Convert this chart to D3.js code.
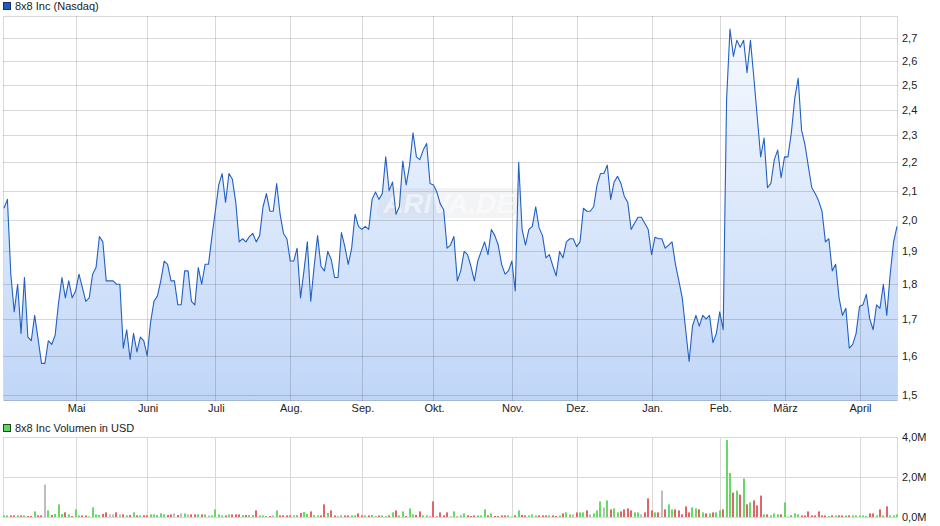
<!DOCTYPE html>
<html><head><meta charset="utf-8">
<script src="https://cdn.jsdelivr.net/npm/d3@7"></script>
<style>
html,body{margin:0;padding:0;background:#fff;}
svg{display:block;font-family:"Liberation Sans",Arial,sans-serif;}
</style></head>
<body>
<svg id="chart" width="940" height="526"></svg>
<script>
const title = "8x8 Inc (Nasdaq)";
const volumeTitle = "8x8 Inc Volumen in USD";
const watermark = "ARIVA.DE";

const prices = [
2.04,2.07,1.83,1.72,1.80,1.66,1.82,1.65,1.64,1.71,
1.645,1.58,1.58,1.64,1.63,1.655,1.745,1.82,1.76,1.81,
1.76,1.78,1.83,1.79,1.75,1.76,1.83,1.85,1.947,1.93,
1.81,1.81,1.81,1.80,1.80,1.62,1.67,1.59,1.66,1.61,
1.65,1.64,1.60,1.69,1.75,1.765,1.81,1.87,1.86,1.81,
1.81,1.74,1.74,1.84,1.84,1.75,1.74,1.85,1.80,1.86,
1.86,1.947,2.03,2.12,2.16,2.06,2.16,2.14,2.06,1.93,
1.94,1.93,1.947,1.957,1.93,1.95,2.045,2.09,2.03,2.03,
2.125,2.02,1.957,1.94,1.87,1.87,1.91,1.76,1.84,1.93,
1.75,1.854,1.95,1.854,1.84,1.90,1.875,1.82,1.82,1.96,
1.915,1.86,1.91,2.02,1.98,1.97,1.98,1.97,2.07,2.095,
2.07,2.09,2.22,2.10,2.13,2.02,2.045,2.205,2.12,2.19,
2.31,2.22,2.21,2.245,2.27,2.125,2.12,2.095,2.055,2.035,
1.91,1.92,1.947,1.81,1.84,1.90,1.89,1.854,1.81,1.87,
1.90,1.93,1.89,1.97,1.95,1.92,1.86,1.83,1.84,1.87,
1.78,2.20,1.97,1.92,1.97,1.98,2.045,1.975,1.95,1.88,
1.89,1.856,1.825,1.90,1.88,1.93,1.94,1.94,1.915,1.93,
2.04,2.03,2.03,2.045,2.12,2.16,2.16,2.19,2.07,2.13,
2.15,2.125,2.08,2.06,1.97,1.99,2.01,2.01,1.99,1.97,
1.89,1.945,1.94,1.94,1.91,1.92,1.93,1.86,1.81,1.76,
1.67,1.585,1.68,1.71,1.68,1.71,1.70,1.71,1.635,1.66,
1.72,1.67,2.44,2.74,2.62,2.69,2.66,2.69,2.55,2.69,
2.53,2.37,2.22,2.29,2.11,2.125,2.21,2.245,2.145,2.22,
2.22,2.31,2.445,2.527,2.32,2.265,2.185,2.11,2.09,2.065,
2.03,1.93,1.94,1.84,1.86,1.76,1.71,1.73,1.62,1.63,
1.66,1.735,1.74,1.77,1.70,1.67,1.74,1.73,1.80,1.71,
1.83,1.93,1.98
];

// volume in millions USD
const volumes = [
0.08,0.08,0.08,0.08,0.08,0.08,0.08,0.05,0.05,0.28,
0.08,0.08,1.62,0.33,0.10,0.15,0.63,0.15,0.23,0.13,
0.05,0.38,0.08,0.08,0.08,0.03,0.48,0.13,0.10,0.15,
0.23,0.13,0.13,0.23,0.13,0.13,0.08,0.10,0.23,0.08,
0.08,0.08,0.08,0.13,0.13,0.10,0.18,0.13,0.10,0.13,
0.18,0.10,0.18,0.18,0.13,0.13,0.13,0.13,0.13,0.13,
0.08,0.08,0.38,0.13,0.08,0.08,0.13,0.13,0.13,0.13,
0.10,0.10,0.10,0.10,0.33,0.08,0.08,0.05,0.05,0.08,
0.33,0.08,0.08,0.08,0.08,0.10,0.10,0.20,0.25,0.15,
0.28,0.10,0.08,0.08,0.63,0.20,0.33,0.08,0.05,0.08,
0.08,0.08,0.08,0.08,0.18,0.08,0.08,0.08,0.10,0.05,
0.08,0.08,0.05,0.08,0.23,0.33,0.08,0.28,0.05,0.43,
0.13,0.10,0.28,0.08,0.08,0.03,0.78,0.03,0.23,0.08,
0.23,0.03,0.28,0.03,0.08,0.18,0.08,0.05,0.08,0.08,
0.08,0.38,0.08,0.18,0.05,0.05,0.08,0.08,0.08,0.03,
0.08,0.33,0.10,0.08,0.08,0.13,0.08,0.08,0.08,0.08,
0.08,0.08,0.05,0.08,0.18,0.23,0.13,0.13,0.23,0.23,
0.23,0.33,0.13,0.18,0.33,0.78,0.48,0.83,0.38,0.43,
0.23,0.28,0.38,0.43,0.33,0.23,0.23,0.13,0.23,0.93,
0.33,0.23,0.23,1.32,0.38,0.63,0.38,0.38,0.33,0.13,
0.53,0.23,0.48,0.43,0.38,0.23,0.18,0.18,0.23,0.23,
0.33,0.38,3.85,2.20,1.22,1.32,1.12,1.92,0.63,0.73,
0.83,0.58,1.07,0.13,0.13,0.08,0.18,0.13,0.13,0.73,
0.03,0.10,0.18,0.13,0.08,0.08,0.28,0.08,0.08,0.28,
0.08,0.08,0.05,0.08,0.08,0.08,0.08,0.08,0.08,0.08,
0.08,0.08,0.08,0.05,0.18,0.18,0.08,0.38,0.08,0.53,
0.08,0.08,0.13
];

const monthLabels = ["Mai","Juni","Juli","Aug.","Sep.","Okt.","Nov.","Dez.","Jan.","Feb.","März","April"];
const monthStartIndex = [21,42,62,84,105,126,149,168,190,210,229,251];
const priceTicks = [1.5,1.6,1.7,1.8,1.9,2.0,2.1,2.2,2.3,2.4,2.5,2.6,2.7];
const volumeTicks = [0,2,4];

const svg = d3.select("#chart");
const L = 3, R = 898;
const pTop = 16, pBot = 401;
const vTop = 437, vBot = 517;
const deLocale = d3.formatLocale({decimal:",", thousands:".", grouping:[3], currency:["","€"]});
const f1 = deLocale.format(".1f");

const x = d3.scaleLinear().domain([0, prices.length - 1]).range([4, 897]);
const y = d3.scaleLog().domain([1.485, 2.80]).range([pBot, pTop]);
const yv = d3.scaleLinear().domain([0, 4]).range([vBot, vTop]);

const defs = svg.append("defs");
const grad = defs.append("linearGradient").attr("id","fillGrad")
  .attr("gradientUnits","userSpaceOnUse").attr("x1",0).attr("x2",0).attr("y1",pTop).attr("y2",pBot);
grad.append("stop").attr("offset","0%").attr("stop-color","#f8fbff");
grad.append("stop").attr("offset","100%").attr("stop-color","#bad2f7");

// Legend titles
svg.append("rect").attr("x",3.5).attr("y",2.5).attr("width",7).attr("height",7)
  .attr("fill","#1f5ac4").attr("stroke","#1b2f5a").attr("stroke-width",1);
svg.append("text").attr("x",15).attr("y",10).attr("font-size",11).attr("fill","#222").text(title);
svg.append("rect").attr("x",3.5).attr("y",424.5).attr("width",7).attr("height",7)
  .attr("fill","#5fd65f").attr("stroke","#1f4a1f").attr("stroke-width",1);
svg.append("text").attr("x",15).attr("y",432).attr("font-size",11).attr("fill","#222").text(volumeTitle);

// Price panel
const gP = svg.append("g");
gP.append("rect").attr("x",L+0.5).attr("y",pTop+0.5).attr("width",R-L-1).attr("height",pBot-pTop-1)
  .attr("fill","#fff");

const area = d3.area().x((d,i)=>x(i)).y0(pBot).y1(d=>y(d));
gP.append("path").datum(prices).attr("d",area).attr("fill","url(#fillGrad)").attr("fill-opacity",0.92);

// grid lines on top (semi-transparent)
gP.selectAll("line.hg").data(priceTicks).join("line")
  .attr("x1",L).attr("x2",R).attr("y1",d=>Math.round(y(d))+0.5).attr("y2",d=>Math.round(y(d))+0.5)
  .attr("stroke","#000").attr("stroke-opacity",0.15);
gP.selectAll("line.vg").data(monthStartIndex).join("line")
  .attr("x1",d=>Math.round(x(d))+0.5).attr("x2",d=>Math.round(x(d))+0.5).attr("y1",pTop).attr("y2",pBot)
  .attr("stroke","#000").attr("stroke-opacity",0.15);
gP.append("rect").attr("x",L+0.5).attr("y",pTop+0.5).attr("width",R-L-1).attr("height",pBot-pTop-1)
  .attr("fill","none").attr("stroke","#000").attr("stroke-opacity",0.15);

// watermark (over the area, faint)
const wm = gP.append("g").attr("transform","translate(449,203)");
wm.append("rect").attr("x",-70).attr("y",-15).attr("width",140).attr("height",30).attr("rx",7)
  .attr("fill","#c8ccd4").attr("opacity",0.22).attr("transform","skewX(-14)");
wm.append("text").attr("x",0).attr("y",10).attr("text-anchor","middle")
  .attr("font-size",28).attr("font-weight","bold").attr("font-style","italic")
  .attr("fill","#ffffff").attr("fill-opacity",0.55)
  .text(watermark);

const line = d3.line().x((d,i)=>x(i)).y(d=>y(d));
gP.append("path").datum(prices).attr("d",line).attr("fill","none")
  .attr("stroke","#2260c4").attr("stroke-width",1.1).attr("stroke-linejoin","round");

// Right price axis
const yAxis = d3.axisRight(y).tickValues(priceTicks).tickFormat(f1).tickSize(0).tickPadding(5);
const ya = svg.append("g").attr("transform",`translate(${R-1},0)`).call(yAxis);
ya.select(".domain").remove();
ya.selectAll("text").attr("font-size",11).attr("fill","#222").attr("font-family","Liberation Sans, Arial, sans-serif");

// Bottom month axis
const xAxis = d3.axisBottom(x).tickValues(monthStartIndex).tickFormat((d,i)=>monthLabels[i]).tickSize(0).tickPadding(3);
const xa = svg.append("g").attr("transform",`translate(0.5,${pBot})`).call(xAxis);
xa.select(".domain").remove();
xa.selectAll("text").attr("font-size",11).attr("fill","#222").attr("font-family","Liberation Sans, Arial, sans-serif");

// Volume panel
const gV = svg.append("g");
gV.selectAll("line.vhg").data(volumeTicks).join("line")
  .attr("x1",L).attr("x2",R).attr("y1",d=>Math.round(yv(d))+0.5).attr("y2",d=>Math.round(yv(d))+0.5)
  .attr("stroke","#d9d9d9");
gV.selectAll("line.vvg").data(monthStartIndex).join("line")
  .attr("x1",d=>Math.round(x(d))+0.5).attr("x2",d=>Math.round(x(d))+0.5).attr("y1",vTop).attr("y2",vBot)
  .attr("stroke","#d9d9d9");
gV.append("line").attr("x1",L+0.5).attr("x2",L+0.5).attr("y1",vTop).attr("y2",vBot).attr("stroke","#d9d9d9");
gV.append("line").attr("x1",R-0.5).attr("x2",R-0.5).attr("y1",vTop).attr("y2",vBot).attr("stroke","#d9d9d9");

function barColor(i){
  if (i === 0) return "#66d966";
  const d = prices[i] - prices[i-1];
  if (Math.abs(d) < 1e-9) return "#bdbdbd";
  return d > 0 ? "#66d966" : "#e06666";
}
gV.selectAll("rect.vb").data(volumes).join("rect")
  .attr("x",(d,i)=>Math.round(x(i)) - 1).attr("width",2)
  .attr("y",d=>yv(d)).attr("height",d=>yv(0)-yv(d))
  .attr("fill",(d,i)=>barColor(i));

const vAxis = d3.axisRight(yv).tickValues(volumeTicks).tickFormat(d=>f1(d)+"M").tickSize(0).tickPadding(5);
const va = svg.append("g").attr("transform",`translate(${R-1},0)`).call(vAxis);
va.select(".domain").remove();
va.selectAll("text").attr("font-size",11).attr("fill","#222").attr("font-family","Liberation Sans, Arial, sans-serif");
</script>
</body></html>
